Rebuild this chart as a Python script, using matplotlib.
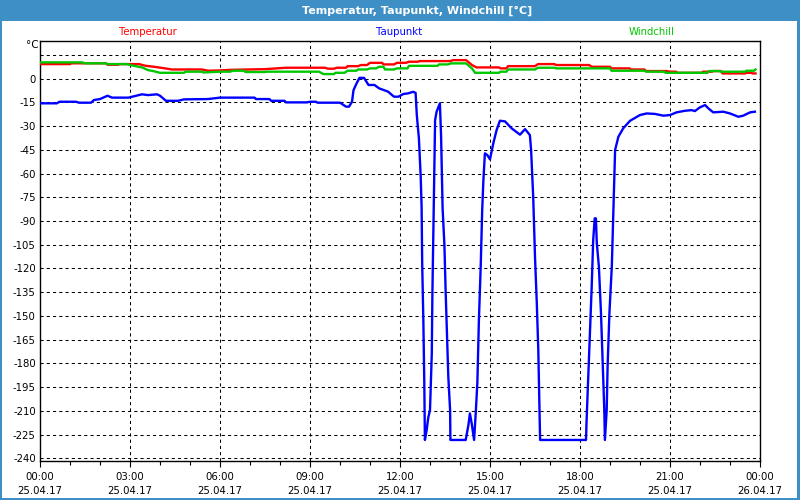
import matplotlib
matplotlib.use("Agg")
import matplotlib.pyplot as plt
from matplotlib.patches import Rectangle
from matplotlib.ticker import MultipleLocator

# ---------------- data (hours since 25.04.17 00:00, °C) ----------------
temp_t = [0, 1.0, 1.05, 2.2, 2.25, 2.6, 2.65, 3.3, 3.5, 3.8, 4.1, 4.4, 5.4, 5.6, 6.0,
          6.4, 7.5, 8.2, 9.5, 9.6, 9.8, 9.9, 10.2, 10.25, 10.6, 10.7, 10.9, 11.0, 11.4,
          11.45, 11.8, 11.9, 12.2, 12.3, 12.6, 12.65, 13.7, 13.75, 14.2, 14.4, 14.55,
          15.3, 15.35, 15.55, 15.6, 16.5, 16.6, 17.15, 17.2, 18.3, 18.4, 19.0, 19.05,
          19.65, 19.7, 20.15, 20.2, 20.9, 21.0, 21.2, 21.25, 22.05, 22.1, 22.4, 22.45,
          22.7, 22.75, 23.5, 23.55, 23.7, 23.75, 23.85]
temp_v = [9.2, 9.2, 9.7, 9.7, 8.8, 8.8, 9.2, 9.2, 8.2, 7.5, 6.7, 5.8, 5.8, 5.0, 5.2,
          5.6, 6.0, 6.9, 6.9, 6.3, 6.3, 6.9, 6.9, 7.9, 7.9, 8.6, 8.6, 10.0, 10.0,
          9.0, 9.0, 10.0, 10.0, 10.7, 10.7, 11.1, 11.1, 11.7, 11.7, 8.6, 7.1,
          7.1, 6.5, 6.5, 7.9, 7.9, 9.2, 9.2, 8.6, 8.6, 7.5, 7.5, 6.5,
          6.5, 5.8, 5.8, 4.8, 4.8, 4.4, 4.4, 3.7, 3.7, 4.4, 4.4, 4.8,
          4.8, 3.3, 3.3, 3.7, 3.7, 3.3, 3.3]

wind_t = [0, 1.4, 1.5, 2.2, 2.25, 2.9, 3.05, 3.4, 3.6, 3.77, 4.0, 4.8, 4.85, 5.4, 5.45,
          6.0, 6.35, 6.4, 6.8, 6.85, 7.5, 7.55, 9.3, 9.45, 9.8, 9.85, 10.15, 10.25,
          10.55, 10.6, 10.9, 11.0, 11.2, 11.3, 11.45, 11.5, 11.8, 11.9, 12.25, 12.3,
          13.25, 13.3, 13.6, 13.7, 14.2, 14.4, 14.5, 15.3, 15.35, 15.55, 15.6, 16.5,
          16.6, 17.15, 17.2, 19.0, 19.05, 20.15, 20.2, 20.8, 20.85, 22.25, 22.3, 22.65,
          22.7, 23.5, 23.55, 23.8, 23.85]
wind_v = [10.3, 10.3, 9.7, 9.7, 9.2, 9.2, 8.4, 7.1, 5.4, 4.8, 3.7, 3.7, 4.4, 4.4, 3.9,
          4.4, 4.4, 5.0, 5.0, 4.2, 4.2, 4.4, 4.4, 2.9, 2.9, 3.7, 3.7, 5.0,
          5.0, 5.8, 5.8, 6.5, 6.5, 7.5, 7.5, 5.8, 5.8, 6.5, 6.5, 8.1,
          8.1, 9.0, 9.0, 9.65, 9.65, 6.5, 3.7, 3.7, 4.4, 4.4, 5.8, 5.8,
          6.9, 6.9, 6.5, 6.5, 5.0, 5.0, 4.4, 4.4, 3.7, 3.7, 4.8, 4.8,
          4.4, 4.4, 5.0, 5.0, 5.8]

dew_t = [0, 0.56, 0.65, 1.2, 1.3, 1.7, 1.8, 2.0, 2.25, 2.4, 2.95, 3.2, 3.4, 3.6, 3.9,
         4.0, 4.2, 4.6, 4.8, 5.6, 6.0, 7.15, 7.2, 7.65, 7.7, 8.15, 8.2, 8.9, 9.0, 9.2,
         9.25, 10.0, 10.2, 10.3, 10.4, 10.45, 10.55, 10.65, 10.8, 10.95, 11.15, 11.3,
         11.6, 11.8, 11.95, 12.11, 12.27, 12.44, 12.52, 12.56, 12.63, 12.69, 12.72,
         12.74, 12.78, 12.81, 12.83, 12.89, 12.94, 13.0, 13.06, 13.08, 13.11, 13.14,
         13.17, 13.22, 13.33, 13.37, 13.42, 13.48, 13.52, 13.61, 13.67, 13.68, 14.19,
         14.28, 14.33, 14.39, 14.47, 14.53, 14.58, 14.63, 14.69, 14.74, 14.78, 14.83,
         14.91, 15.0, 15.11, 15.22, 15.33, 15.5, 15.72, 16.0, 16.17, 16.33, 16.37,
         16.44, 16.5, 16.56, 16.61, 16.64, 16.67, 18.2, 18.22, 18.28, 18.33, 18.39,
         18.44, 18.49, 18.53, 18.56, 18.63, 18.7, 18.76, 18.81, 18.83, 18.89, 18.92,
         18.98, 19.06, 19.11, 19.17, 19.28, 19.44, 19.67, 20.0, 20.22, 20.5, 20.78,
         21.0, 21.22, 21.5, 21.72, 21.83, 22.0, 22.17, 22.28, 22.44, 22.78, 23.0,
         23.28, 23.44, 23.67, 23.83]
dew_v = [-15.6, -15.6, -14.6, -14.6, -15.2, -15.2, -13.5, -12.9, -10.8, -12.0, -12.0,
         -10.8, -9.9, -10.4, -9.9, -10.8, -14.0, -14.0, -13.1, -12.9, -12.0, -12.0,
         -12.9, -12.9, -14.0, -14.0, -15.0, -15.0, -14.6, -14.6, -15.2, -15.2, -17.7,
         -17.7, -14.6, -7.3, -3.1, 0.5, 0.5, -4.0, -4.0, -6.1, -8.2, -11.4, -11.4,
         -9.7, -9.3, -8.3, -9.0, -23.0, -37.7, -62.0, -81.0, -116.8, -154.7, -192.6,
         -228.4, -222.0, -214.5, -209.5, -173.5, -135.7, -98.9, -63.0, -26.2, -20.9,
         -15.6, -36.7, -82.0, -105.0, -133.6, -188.4, -209.5, -228.4, -228.4, -219.0,
         -211.6, -218.0, -228.4, -209.5, -191.6, -152.6, -118.9, -83.0, -64.1, -47.2,
         -48.3, -51.0, -40.9, -32.5, -26.6, -27.0, -31.4, -35.4, -31.9, -35.7, -45.1,
         -74.6, -112.6, -142.0, -171.6, -198.9, -228.4, -228.4, -215.8, -186.3, -161.0,
         -131.5, -102.0, -88.3, -88.3, -104.0, -118.9, -148.4, -182.0, -209.5, -228.4,
         -209.5, -182.0, -148.4, -118.9, -85.0, -45.1, -36.7, -31.4, -26.6, -23.0,
         -22.0, -22.3, -23.4, -23.0, -21.3, -20.3, -19.9, -20.5, -18.1, -16.7, -18.8,
         -21.3, -20.9, -22.0, -24.1, -23.4, -21.3, -20.9]

series_names = ["Temperatur", "Taupunkt", "Windchill"]
x_times = ["00:00", "03:00", "06:00", "09:00", "12:00", "15:00", "18:00", "21:00", "00:00"]
x_dates = ["25.04.17"] * 8 + ["26.04.17"]
y_ticks = list(range(0, -241, -15))
title = "Temperatur, Taupunkt, Windchill [°C]"

# ---------------- figure ----------------
plt.rcParams['font.family'] = ['DejaVu Sans']
fig = plt.figure(figsize=(8, 5), dpi=100, facecolor="white")
W, H = 800, 500

# title bar and window border
bar_col = "#3d8fc5"
fig.patches.append(Rectangle((0, 1 - 21 / H), 1, 21 / H, transform=fig.transFigure,
                             facecolor=bar_col, edgecolor="none", zorder=0))
fig.patches.append(Rectangle((0, 0), 2 / W, 1, transform=fig.transFigure,
                             facecolor=bar_col, edgecolor="none", zorder=0))
fig.patches.append(Rectangle((1 - 3 / W, 0), 3 / W, 1, transform=fig.transFigure,
                             facecolor=bar_col, edgecolor="none", zorder=0))
fig.patches.append(Rectangle((0, 0), 1, 2 / H, transform=fig.transFigure,
                             facecolor=bar_col, edgecolor="none", zorder=0))
fig.text(417 / W, 1 - 11 / H, title, color="white", fontsize=8, fontweight="bold",
         ha="center", va="center")

ax = fig.add_axes([40 / W, 1 - 461 / H, 720 / W, 420 / H])
ax.set_facecolor("white")

colors = {"Temperatur": "#ff0000", "Taupunkt": "#0000ff", "Windchill": "#00c800"}
ax.plot(dew_t, dew_v, color=colors["Taupunkt"], lw=1.7, zorder=3)
ax.plot(wind_t, wind_v, color=colors["Windchill"], lw=1.7, zorder=4)
ax.plot(temp_t, temp_v, color=colors["Temperatur"], lw=1.7, zorder=3)

ax.set_xlim(0, 24)
ax.set_ylim(-241.7, 23.8)

ax.set_xticks([3 * i for i in range(9)])
ax.set_xticklabels([f"{a}\n{b}" for a, b in zip(x_times, x_dates)], fontsize=7.3,
                   linespacing=1.45)
ax.xaxis.set_minor_locator(MultipleLocator(1))
ax.tick_params(axis="x", which="major", length=4, width=0.8, pad=4, direction="out")
ax.tick_params(axis="x", which="minor", length=3, width=0.8, direction="out")

ax.set_yticks(y_ticks)
ax.set_yticklabels([str(v) for v in y_ticks], fontsize=7.3)
ax.tick_params(axis="y", which="major", length=0, pad=3)

# grid
for yv in list(range(15, -241, -15)):
    ax.axhline(yv, color="black", lw=0.75, ls=(0, (3, 3)), zorder=1)
for xv in range(3, 24, 3):
    ax.axvline(xv, color="black", lw=0.75, ls=(0, (3, 3)), zorder=1)

for s in ax.spines.values():
    s.set_color("black")
    s.set_linewidth(1.0)

fig.text(32 / W, 1 - 45 / H, "°C", fontsize=7.5, ha="center", va="center")

label_x = {"Temperatur": 148, "Taupunkt": 399, "Windchill": 652}
for name in series_names:
    fig.text(label_x[name] / W, 1 - 32 / H, name, color=colors[name], fontsize=7.3,
             ha="center", va="center")

fig.savefig("out.png", dpi=100, facecolor="white")
